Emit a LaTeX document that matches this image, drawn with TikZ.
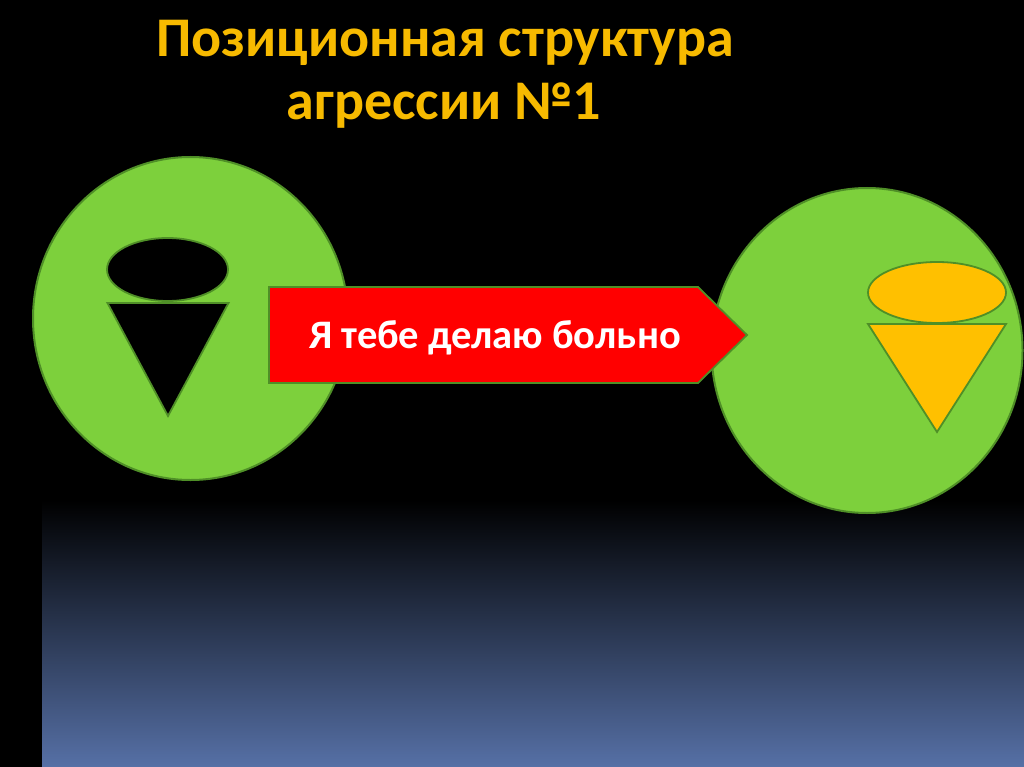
\documentclass[tikz,border=0pt]{standalone}
\usepackage{fontspec}
\setmainfont{Carlito}
\usetikzlibrary{shapes.geometric}
\definecolor{gradblue}{HTML}{5670A6}
\definecolor{leafgreen}{HTML}{7DD03C}
\definecolor{edgegreen}{HTML}{4F8F27}
\definecolor{gold}{HTML}{FFC000}
\definecolor{titlegold}{HTML}{F7BA00}
\begin{document}
\begin{tikzpicture}[x=1pt,y=-1pt,
  person/.style={ellipse, draw=edgegreen, line width=2pt, fill=leafgreen, inner sep=0pt},
  headshape/.style={ellipse, draw=edgegreen, line width=1.8pt, inner sep=0pt},
  bodyshape/.style={draw=edgegreen, line width=1.8pt, line join=miter},
  titletext/.style={text=titlegold, font=\bfseries\fontsize{56}{63}\selectfont, anchor=base, inner sep=0pt},
  arrowtext/.style={text=white, font=\bfseries\fontsize{40.5}{46}\selectfont, anchor=base, inner sep=0pt}]
\fill[black] (0,0) rectangle (1024,767);
\useasboundingbox (0,0) rectangle (1024,767);
\shade[top color=black, bottom color=gradblue] (42,500) rectangle (1024,767);

\node[titletext] (t1) at (445,57) {Позиционная структура};
\node[titletext] (t2) at (444,120) {агрессии №1};

\node[person, minimum width=315pt, minimum height=323pt] (p1) at (190.5,318.5) {};
\node[person, minimum width=311pt, minimum height=325pt] (p2) at (867,350.5) {};

\node[headshape, fill=black, minimum width=121pt, minimum height=63pt] (h1) at (167.5,269.5) {};
\draw[bodyshape, fill=black] (107.5,303) -- (228.5,303) -- (168,416) -- cycle;

\node[headshape, fill=gold, minimum width=138pt, minimum height=61pt] (h2) at (937,292.5) {};
\draw[bodyshape, fill=gold] (868,324) -- (1006,324) -- (937,432) -- cycle;

\draw[draw=edgegreen, line width=1.8pt, fill=red, line join=miter]
  (269,287) -- (698,287) -- (747,335) -- (698,383) -- (269,383) -- cycle;
\node[arrowtext] (msg) at (495,348) {Я тебе делаю больно};
\end{tikzpicture}
\end{document}
